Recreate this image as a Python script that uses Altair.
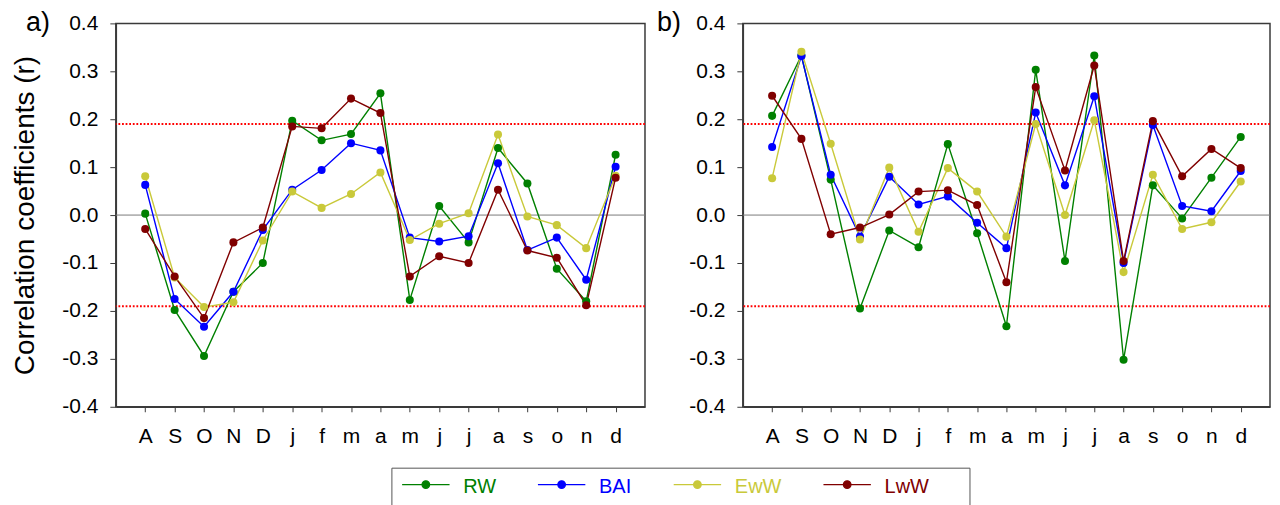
import altair as alt
import pandas as pd

months = ["A", "S", "O", "N", "D", "j", "f", "m", "a", "m", "j", "j", "a", "s", "o", "n", "d"]
series = ["RW", "BAI", "EwW", "LwW"]
colors = ["#008000", "#0000FF", "#C9C93A", "#800000"]
y_ticks = [-0.4, -0.3, -0.2, -0.1, 0.0, 0.1, 0.2, 0.3, 0.4]
thresholds = [0.19, -0.19]
panel_letters = ["a)", "b)"]

# panel a)
a_rw = [0.003, -0.198, -0.294, -0.160, -0.100, 0.197, 0.156, 0.169, 0.254, -0.177, 0.019, -0.057, 0.140, 0.066, -0.112, -0.180, 0.126]
a_bai = [0.063, -0.175, -0.233, -0.160, -0.031, 0.053, 0.094, 0.150, 0.135, -0.047, -0.055, -0.044, 0.108, -0.073, -0.047, -0.135, 0.101]
a_eww = [0.081, -0.130, -0.192, -0.182, -0.053, 0.049, 0.015, 0.044, 0.089, -0.052, -0.018, 0.004, 0.168, -0.003, -0.021, -0.069, 0.082]
a_lww = [-0.029, -0.128, -0.215, -0.057, -0.026, 0.185, 0.181, 0.243, 0.213, -0.128, -0.086, -0.100, 0.053, -0.074, -0.089, -0.188, 0.078]

# panel b)
b_rw = [0.207, 0.333, 0.074, -0.195, -0.032, -0.067, 0.148, -0.038, -0.232, 0.303, -0.096, 0.333, -0.302, 0.062, -0.007, 0.078, 0.163]
b_bai = [0.142, 0.332, 0.084, -0.045, 0.080, 0.022, 0.039, -0.016, -0.069, 0.214, 0.062, 0.248, -0.100, 0.188, 0.019, 0.008, 0.092]
b_eww = [0.077, 0.341, 0.149, -0.051, 0.099, -0.035, 0.098, 0.049, -0.045, 0.190, 0.000, 0.198, -0.119, 0.084, -0.029, -0.015, 0.070]
b_lww = [0.249, 0.159, -0.040, -0.026, 0.001, 0.049, 0.052, 0.021, -0.140, 0.267, 0.093, 0.312, -0.096, 0.196, 0.081, 0.138, 0.098]

FONT = "Liberation Sans"
FRAME = "#3a3a3a"


def long_df(vals_list):
    rows = []
    for s, vals in zip(series, vals_list):
        for i, v in enumerate(vals):
            rows.append({"idx": i, "series": s, "value": v})
    return pd.DataFrame(rows)


df_a = long_df([a_rw, a_bai, a_eww, a_lww])
df_b = long_df([b_rw, b_bai, b_eww, b_lww])
zero_df = pd.DataFrame({"value": [0.0]})
thr_df = pd.DataFrame({"value": thresholds})

label_expr = "[" + ",".join("'%s'" % m for m in months) + "][datum.value]"
y_label_expr = "(datum.value < -0.001 ? '-' : '') + format(abs(datum.value), '.1f')"
color_expr = "{" + ",".join("'%s':'%s'" % (s, c) for s, c in zip(series, colors)) + "}[datum.value]"

# legend glyph: a short line with a dot, lifted a little above the entry centre
sym_path = ("M-1,-0.34L1,-0.34M-0.16,-0.34A0.16,0.16,0,1,0,0.16,-0.34"
            "A0.16,0.16,0,1,0,-0.16,-0.34Z")

legend = alt.Legend(
    title=None,
    orient="none",
    legendX=276,
    legendY=445,
    direction="horizontal",
    symbolType=sym_path,
    symbolSize=2256,
    symbolStrokeWidth=1.3,
    symbolOpacity=1,
    symbolFillColor=alt.ExprRef(color_expr),
    symbolStrokeColor=alt.ExprRef(color_expr),
    labelColor=alt.ExprRef(color_expr),
    labelFont=FONT,
    labelFontSize=20,
    labelBaseline="alphabetic",
    labelOffset=13,
    columnPadding=41,
    padding=10,
    clipHeight=30,
    strokeColor="#555555",
    fillColor="white",
    gridAlign="none",
    labelExpr="datum.label == 'LwW' ? 'LwW" + "\u2800" * 2 + "' : datum.label",
)

color = alt.Color("series:N", scale=alt.Scale(domain=series, range=colors), legend=legend)


def panel(df, letter, dx, width, with_title):
    x = alt.X(
        "idx:O",
        scale=alt.Scale(type="point", padding=1),
        axis=alt.Axis(
            title=None, labelExpr=label_expr, labelAngle=0, labelFont=FONT,
            labelFontSize=21, labelColor="black", tickSize=5, labelPadding=14,
            tickColor=FRAME, domainColor=FRAME, domainWidth=1.5, grid=False,
        ),
    )
    y = alt.Y(
        "value:Q",
        scale=alt.Scale(domain=[-0.4, 0.4], nice=False, zero=False),
        axis=alt.Axis(
            title="Correlation coefficients (r)" if with_title else None,
            values=y_ticks, labelExpr=y_label_expr, labelFont=FONT, labelFontSize=21,
            labelColor="black", tickSize=6, labelPadding=12, tickColor=FRAME,
            domainColor=FRAME, domainWidth=1.5, grid=False,
            titleFont=FONT, titleFontSize=28, titleFontWeight="normal",
            titleColor="black", titlePadding=22,
        ),
    )
    zero = alt.Chart(zero_df).mark_rule(color="#7a7a7a", strokeWidth=1).encode(y=y)
    thr = alt.Chart(thr_df).mark_rule(color="#FF0000", strokeWidth=2, strokeDash=[1.8, 1.8]).encode(y="value:Q")
    lines = alt.Chart(df).mark_line(strokeWidth=1.4).encode(x=x, y="value:Q", color=color, detail="series:N")
    pts = alt.Chart(df).mark_circle(size=65, opacity=1).encode(x=x, y="value:Q", color=color)
    tag = alt.Chart(pd.DataFrame({"t": [letter]})).mark_text(
        align="left", baseline="alphabetic", fontSize=27, font=FONT, color="black"
    ).encode(text="t:N", x=alt.value(dx), y=alt.value(8))
    return alt.layer(zero, thr, lines, pts, tag).properties(width=width, height=384)


pa = panel(df_a, panel_letters[0], -90, 530, True)
pb = panel(df_b, panel_letters[1], -86, 528, False)

chart = (
    alt.hconcat(pa, pb, spacing=9)
    .resolve_scale(color="shared")
    .resolve_legend(color="shared")
    .properties(padding={"left": 3, "top": 0, "right": 0, "bottom": 0})
    .configure_view(stroke=FRAME, strokeWidth=1.5)
)

chart.save("out.html", embed_options={"renderer": "svg", "actions": False})
